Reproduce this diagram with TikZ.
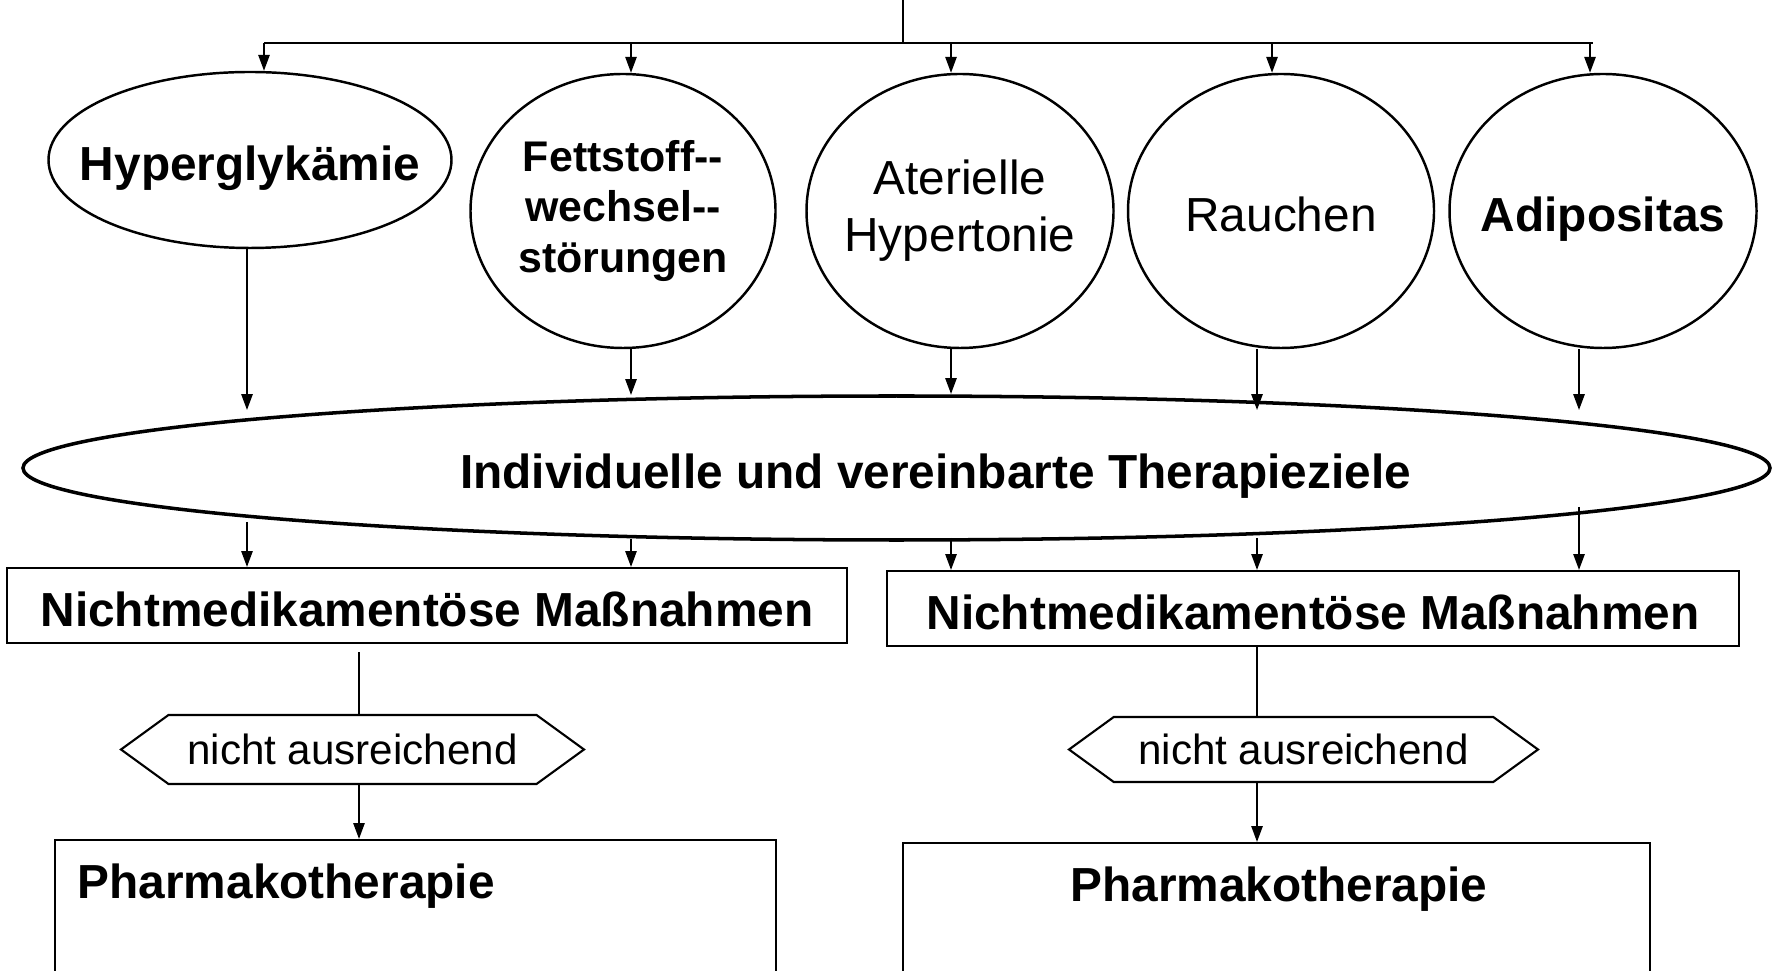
\documentclass[tikz,border=0pt]{standalone}
\usepackage{fontspec}
\setmainfont{Liberation Sans}
\usepackage{tikz}
\usetikzlibrary{shapes.geometric, shapes.symbols, arrows.meta}

\newcommand{\bigfont}{\fontsize{13.6}{16.2}\selectfont}
\newcommand{\midfont}{\fontsize{12}{14.4}\selectfont}
\newcommand{\fettfont}{\fontsize{12.2}{14.5}\selectfont}

\tikzset{
  risk/.style={ellipse, draw, line width=0.7pt, inner xsep=-10pt, inner ysep=0pt, align=center},
  oneline/.style={text height=11.8pt, text depth=0pt},
  goalring/.style={ellipse, draw, line width=1pt, inner sep=0pt},
  measure/.style={rectangle, draw, line width=0.6pt, inner sep=0pt},
  gate/.style={signal, signal to=west and east, signal pointer angle=72, draw, line width=0.6pt, inner sep=0pt},
  arr/.style={-{Triangle[length=4.5pt,width=3.2pt]}, line width=0.5pt},
  link/.style={line width=0.5pt}
}

\begin{document}
\begin{tikzpicture}
        \useasboundingbox (0,0) rectangle (17.76,9.70);
        \clip (0,0) rectangle (17.76,9.70);

        % Risk factors
        \node[risk, oneline, minimum width=4.03cm, minimum height=1.76cm, font=\bigfont\bfseries] (hyp) at (2.50,8.10) {Hyperglykämie};
        \node[risk, minimum width=3.05cm, minimum height=2.74cm, font=\fettfont\bfseries] (fett) at (6.23,7.59) {Fettstoff-{}-\\wechsel-{}-\\störungen};
        \node[risk, minimum width=3.07cm, minimum height=2.74cm, font=\bigfont] (hyper) at (9.60,7.59) {Aterielle\\Hypertonie};
        \node[risk, oneline, minimum width=3.06cm, minimum height=2.74cm, font=\bigfont] (rauch) at (12.81,7.59) {Rauchen};
        \node[risk, oneline, minimum width=3.07cm, minimum height=2.74cm, font=\bigfont\bfseries] (adip) at (16.03,7.59) {Adipositas};

        % Fork from the top
        \coordinate (root) at (9.03,9.70);
        \coordinate (fork) at (9.03,9.27);
        \coordinate (forkR) at (15.93,9.27);
        \draw[link] (root) -- (fork);
        \foreach \x/\n [count=\i] in {2.64/hyp, 6.31/fett, 9.51/hyper, 12.72/rauch, 15.90/adip} {
            \coordinate (t\i) at (\x,9.27);
            \draw[arr] (t\i) -- (t\i |- \n.north);
        }
        \draw[link] (t1) -- (forkR);

        % Therapy goals
        \node[goalring, minimum width=17.47cm, minimum height=1.44cm,
              label={[font=\bigfont\bfseries, oneline, inner sep=0pt, xshift=0.39cm]center:Individuelle und vereinbarte Therapieziele}] (goals) at (8.965,5.02) {};

        \foreach \x/\n/\y [count=\i] in {2.47/hyp/5.60, 6.31/fett/5.75, 9.51/hyper/5.76, 12.57/rauch/5.60, 15.79/adip/5.60} {
            \coordinate (g\i) at (\x,\y);
            \draw[arr] (g\i |- \n.south) -- (g\i);
        }

        % Non-drug measures
        \node[measure, oneline, minimum width=8.40cm, minimum height=0.75cm, font=\bigfont\bfseries] (nmL) at (4.27,3.645) {Nichtmedikamentöse Maßnahmen};
        \node[measure, oneline, minimum width=8.52cm, minimum height=0.75cm, font=\bigfont\bfseries] (nmR) at (13.13,3.615) {Nichtmedikamentöse Maßnahmen};

        \foreach \x/\y/\n [count=\i] in {2.47/4.48/nmL, 6.31/4.31/nmL, 9.51/4.32/nmR, 12.57/4.32/nmR, 15.79/4.63/nmR} {
            \coordinate (s\i) at (\x,\y);
            \draw[arr] (s\i) -- (s\i |- \n.north);
        }

        % Not sufficient
        \node[gate, minimum width=4.63cm, minimum height=0.69cm, font=\midfont] (gateL) at (3.525,2.205) {nicht ausreichend};
        \node[gate, minimum width=4.69cm, minimum height=0.65cm, font=\midfont] (gateR) at (13.035,2.205) {nicht ausreichend};

        % Drug therapy
        \node[measure, minimum width=7.21cm, minimum height=1.80cm] (phL) at (4.155,0.40) {};
        \node[measure, minimum width=7.47cm, minimum height=1.77cm] (phR) at (12.765,0.385) {};
        \node[font=\bigfont\bfseries, inner sep=0pt, anchor=base west] (phLtext) at (0.77,0.72) {Pharmakotherapie};
        \node[font=\bigfont\bfseries, inner sep=0pt, anchor=base] (phRtext) at (12.79,0.69) {Pharmakotherapie};

        \coordinate (colL) at (3.59,0);
        \coordinate (colR) at (12.57,0);
        \draw[link, shorten <=2.3pt] (colL |- nmL.south) -- (colL |- gateL.north);
        \draw[arr] (colL |- gateL.south) -- (colL |- phL.north);
        \draw[link] (colR |- nmR.south) -- (colR |- gateR.north);
        \draw[arr] (colR |- gateR.south) -- (colR |- phR.north);
\end{tikzpicture}
\end{document}
